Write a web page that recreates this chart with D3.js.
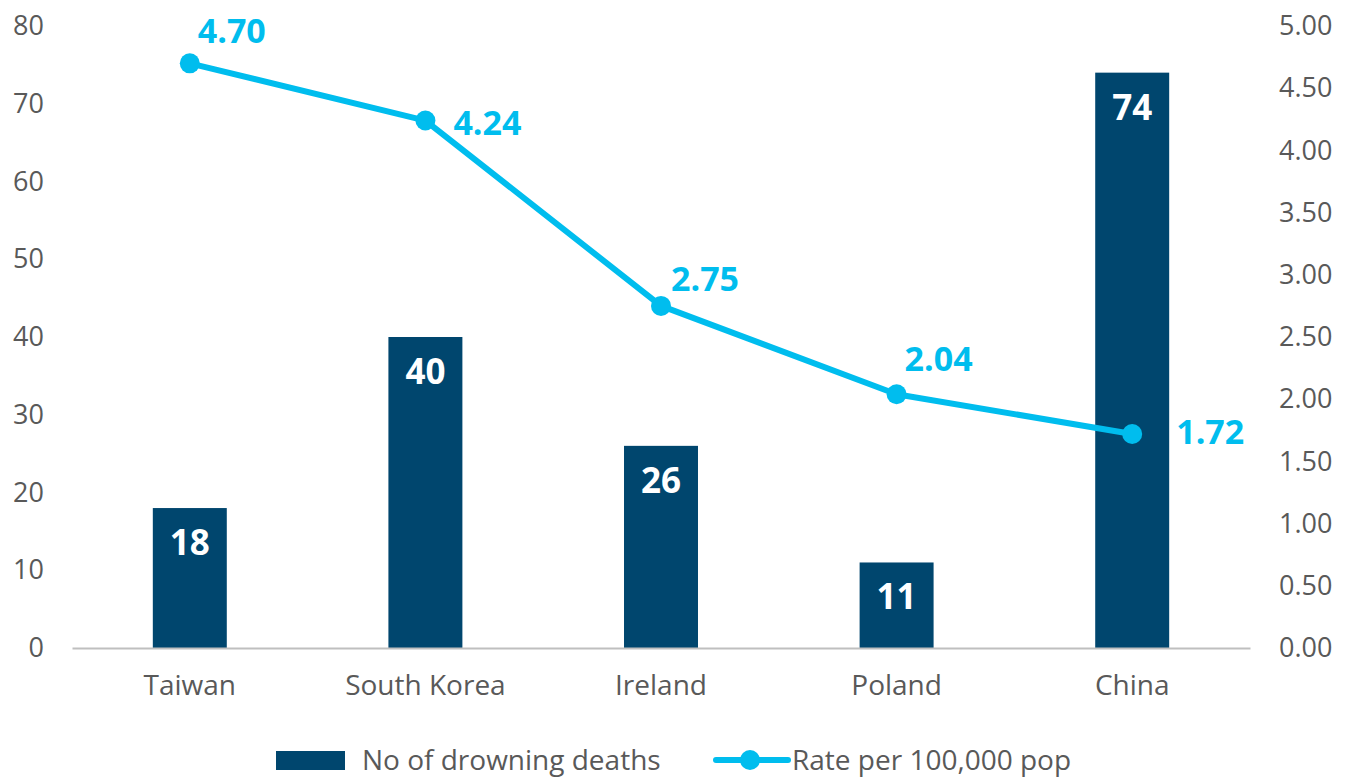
<!DOCTYPE html>
<html>
<head>
<meta charset="utf-8">
<script src="https://cdn.jsdelivr.net/npm/d3@7"></script>
<style>
  body { margin: 0; background: #fff; }
  svg text { font-family: "Open Sans", Lato, sans-serif; }
</style>
</head>
<body>
<div id="chart"></div>
<script>
// countries on the x axis
var countries = ["Taiwan", "South Korea", "Ireland", "Poland", "China"];
// bars: number of drowning deaths
var deaths = [18, 40, 26, 11, 74];
// line: rate per 100,000 pop
var rates = [4.70, 4.24, 2.75, 2.04, 1.72];
var leftTicks = [0, 10, 20, 30, 40, 50, 60, 70, 80];
var rightTicks = [0, 0.5, 1, 1.5, 2, 2.5, 3, 3.5, 4, 4.5, 5];

var width = 1356, height = 778;
var barColor = "#00466e", lineColor = "#00bdee", textColor = "#595959";
var font = "'Open Sans', Lato, sans-serif";

var svg = d3.select("#chart").append("svg")
    .attr("width", width)
    .attr("height", height);

var x = d3.scaleBand().domain(countries).range([72, 1250])
    .paddingInner(0.686).paddingOuter(0.343);
var yL = d3.scaleLinear().domain([0, 80]).range([648, 26]);
var yR = d3.scaleLinear().domain([0, 5]).range([648, 26]);

// left axis labels
var left = svg.append("g").attr("transform", "translate(44,0)")
    .call(d3.axisLeft(yL).tickValues(leftTicks).tickSize(0).tickPadding(0));
left.select(".domain").remove();
left.selectAll("text").attr("font-size", 27).attr("fill", textColor)
    .attr("font-family", font);

// right axis labels
var right = svg.append("g").attr("transform", "translate(1279,0)")
    .call(d3.axisRight(yR).tickValues(rightTicks).tickFormat(d3.format(".2f")).tickSize(0).tickPadding(0));
right.select(".domain").remove();
right.selectAll("text").attr("font-size", 27).attr("fill", textColor)
    .attr("font-family", font);

// bars
svg.selectAll(".bar")
    .data(deaths)
    .enter().append("rect")
    .attr("class", "bar")
    .attr("x", function(d, i) { return x(countries[i]); })
    .attr("y", function(d) { return yL(d); })
    .attr("width", x.bandwidth())
    .attr("height", function(d) { return yL(0) - yL(d); })
    .attr("fill", barColor);

// x axis
var xAxis = svg.append("g").attr("transform", "translate(0,648)")
    .call(d3.axisBottom(x).tickSize(0).tickPadding(27));
xAxis.select(".domain").attr("stroke", "#bfbfbf").attr("stroke-width", 2);
xAxis.selectAll("text").attr("font-size", 28).attr("fill", textColor)
    .attr("font-family", font);

// bar value labels
svg.selectAll(".barlabel")
    .data(deaths)
    .enter().append("text")
    .attr("x", function(d, i) { return x(countries[i]) + x.bandwidth() / 2; })
    .attr("y", function(d) { return yL(d) + 47; })
    .attr("text-anchor", "middle")
    .attr("font-size", 35)
    .attr("font-weight", "bold")
    .attr("fill", "#fff")
    .text(function(d) { return d; });

// rate line
var cx = function(i) { return x(countries[i]) + x.bandwidth() / 2; };
var line = d3.line()
    .x(function(d, i) { return cx(i); })
    .y(function(d) { return yR(d); });

svg.append("path")
    .datum(rates)
    .attr("d", line)
    .attr("fill", "none")
    .attr("stroke", lineColor)
    .attr("stroke-width", 6)
    .attr("stroke-linejoin", "round");

svg.selectAll(".dot")
    .data(rates)
    .enter().append("circle")
    .attr("cx", function(d, i) { return cx(i); })
    .attr("cy", function(d) { return yR(d); })
    .attr("r", 10)
    .attr("fill", lineColor);

// rate labels, offset from each point
var labelOffsets = [[8, -20], [28, 14], [10, -15], [8, -23], [44, 10]];
svg.selectAll(".ratelabel")
    .data(rates)
    .enter().append("text")
    .attr("x", function(d, i) { return cx(i) + labelOffsets[i][0]; })
    .attr("y", function(d, i) { return yR(d) + labelOffsets[i][1]; })
    .attr("font-size", 34)
    .attr("font-weight", "bold")
    .attr("fill", lineColor)
    .text(function(d) { return d3.format(".2f")(d); });

// legend
var lg = svg.append("g");
lg.append("rect").attr("x", 276).attr("y", 751).attr("width", 69).attr("height", 19).attr("fill", barColor);
lg.append("text").attr("x", 362).attr("y", 770).attr("font-size", 28).attr("fill", textColor)
    .text("No of drowning deaths");
lg.append("line").attr("x1", 716).attr("x2", 788).attr("y1", 760).attr("y2", 760)
    .attr("stroke", lineColor).attr("stroke-width", 6).attr("stroke-linecap", "round");
lg.append("circle").attr("cx", 750).attr("cy", 760).attr("r", 10).attr("fill", lineColor);
lg.append("text").attr("x", 792).attr("y", 770).attr("font-size", 28).attr("fill", textColor)
    .text("Rate per 100,000 pop");
</script>
</body>
</html>
